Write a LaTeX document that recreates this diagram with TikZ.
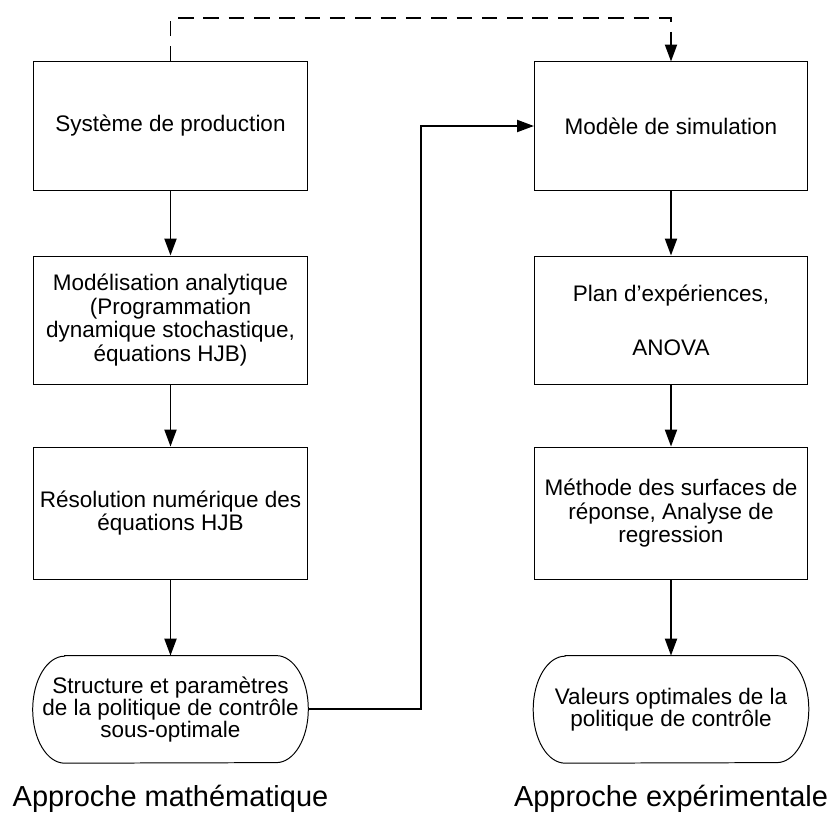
\documentclass[tikz,border=0pt]{standalone}
\usepackage{fontspec}
\setmainfont{Liberation Sans}
\usetikzlibrary{arrows.meta,positioning}

\begin{document}
\begin{tikzpicture}[
    x=0.025cm, y=-0.025cm,
    node distance=1.6cm,
    etape/.style={rectangle, draw, line width=0.7pt, minimum width=6.825cm, minimum height=3.2cm, align=center, inner sep=2pt, font=\fontsize{16}{17}\selectfont},
    resultat/.style={rectangle, minimum width=6.875cm, minimum height=2.675cm, align=center, inner sep=0pt, font=\fontsize{16}{15.5}\selectfont},
    titre/.style={anchor=base, font=\fontsize{20.6}{24}\selectfont},
    fleche/.style={line width=1.4pt, -{Triangle[length=12pt, width=8.5pt]}}
]
    \useasboundingbox (0,0) rectangle (830,815);

    % approche mathematique
    \node[etape] (systeme) at (170.5,126) {Système de production};
    \node[etape, below=1.625cm of systeme] (modelisation) {Modélisation analytique\\(Programmation\\dynamique stochastique,\\équations HJB)};
    \node[etape, minimum height=3.3cm, below=1.55cm of modelisation] (resolution) {Résolution numérique des\\équations HJB};
    \node[resultat, below=1.9cm of resolution] (politique) {Structure et paramètres\\de la politique de contrôle\\sous-optimale};
    \node[titre] (titreMath) at ([yshift=-1.075cm]politique.south) {Approche mathématique};

    % approche experimentale
    \node[etape] (simulation) at (671,126) {Modèle de simulation};
    \node[etape, below=1.625cm of simulation] (plan) {Plan d’expériences,\\[0.75cm]ANOVA};
    \node[etape, minimum height=3.3cm, below=1.55cm of plan] (surfaces) {Méthode des surfaces de\\réponse, Analyse de\\regression};
    \node[resultat, below=1.9cm of surfaces] (valeurs) {Valeurs optimales de la\\politique de contrôle};
    \node[titre] (titreExp) at ([yshift=-1.075cm]valeurs.south) {Approche expérimentale};

    % contours arrondis
    \foreach \t in {politique, valeurs}
        \draw[line width=0.7pt] ([xshift=0.8cm]\t.north west) -- ([xshift=-0.8cm]\t.north east)
            arc[start angle=90, end angle=-90, x radius=0.8cm, y radius=1.3375cm]
            -- ([xshift=0.8cm]\t.south west)
            arc[start angle=270, end angle=90, x radius=0.8cm, y radius=1.3375cm] -- cycle;

    \draw[fleche] (systeme) -- (modelisation);
    \draw[fleche] (modelisation) -- (resolution);
    \draw[fleche] (resolution) -- (politique);
    \draw[fleche] (simulation) -- (plan);
    \draw[fleche] (plan) -- (surfaces);
    \draw[fleche] (surfaces) -- (valeurs);
    \draw[fleche, dash pattern=on 11pt off 7pt] (systeme.north) -- ++(0,1.075cm) -| (simulation.north);
    \draw[fleche] (politique.east) -- ++(2.825cm,0) |- (simulation.west);
\end{tikzpicture}
\end{document}
